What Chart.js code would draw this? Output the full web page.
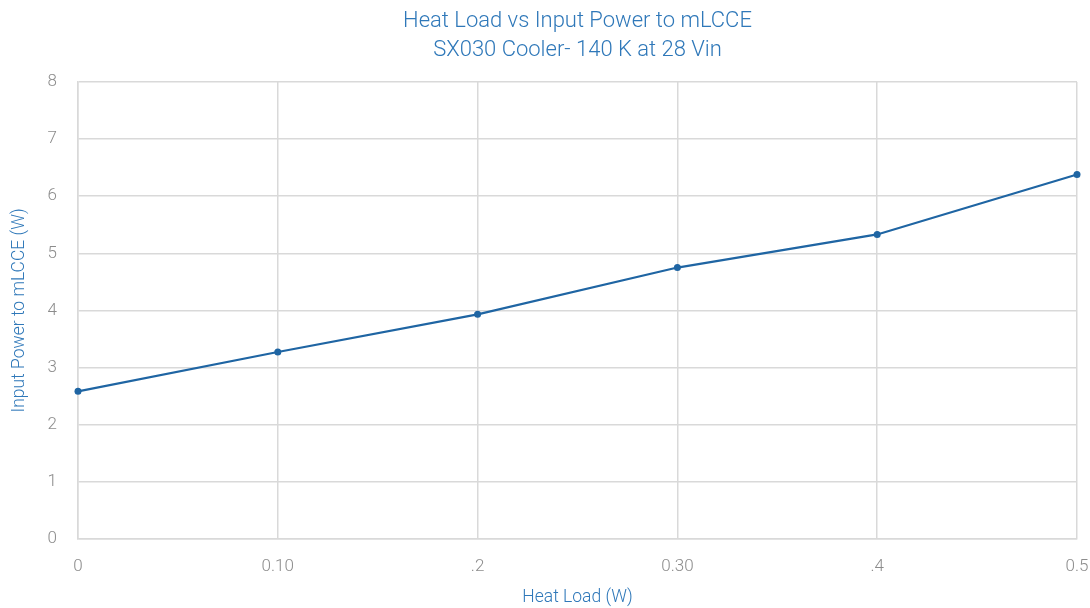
<!DOCTYPE html>
<html>
<head>
<meta charset="utf-8">
<script src="https://cdn.jsdelivr.net/npm/chart.js@4.4.1/dist/chart.umd.min.js"></script>
<style>
    html, body { margin: 0; padding: 0; background: #fff; }
    .chart-container { position: relative; width: 1090px; height: 608px; }
</style>
</head>
<body>
<div class="chart-container">
    <canvas id="heatChart"></canvas>
</div>
<script>
// Heat load (W) categories as labelled on the axis
const heatLabels = ['0', '0.10', '.2', '0.30', '.4', '0.5'];
// Input power to mLCCE (W)
const inputPower = [2.58, 3.27, 3.93, 4.75, 5.33, 6.38];
const titleLines = ['Heat Load vs Input Power to mLCCE', 'SX030 Cooler- 140 K at 28 Vin'];

const blue = '#1f65a3';
const titleBlue = '#2f78b9';
const tickGrey = '#8c8c8c';
const gridGrey = '#d9d9d9';
const fontFamily = '"Helvetica Neue", Roboto, "Liberation Sans", sans-serif';

const ctx = document.getElementById('heatChart').getContext('2d');

new Chart(ctx, {
    type: 'line',
    data: {
        labels: heatLabels,
        datasets: [{
            label: 'Input Power',
            data: inputPower,
            borderColor: blue,
            backgroundColor: blue,
            borderWidth: 2.2,
            pointRadius: 3.5,
            pointBackgroundColor: blue,
            pointBorderWidth: 0,
            tension: 0,
            fill: false
        }]
    },
    options: {
        responsive: true,
        maintainAspectRatio: false,
        animation: false,
        layout: { padding: { left: 9, right: 0, top: 7, bottom: 0 } },
        plugins: {
            legend: { display: false },
            tooltip: { enabled: false },
            title: {
                display: true,
                fullSize: false,
                text: titleLines,
                color: titleBlue,
                font: { family: fontFamily, size: 22, weight: '300', lineHeight: 1.32 },
                padding: { top: 0, bottom: 17 }
            }
        },
        scales: {
            x: {
                offset: false,
                grid: { color: gridGrey, lineWidth: 1.5, drawTicks: false },
                border: { color: gridGrey, width: 1.5 },
                ticks: { color: tickGrey, padding: 18, font: { family: fontFamily, size: 17, weight: '300' } },
                title: {
                    display: true,
                    text: 'Heat Load (W)',
                    color: titleBlue,
                    font: { family: fontFamily, size: 17.5, weight: '300' },
                    padding: { top: -8, bottom: 0 }
                },
                // keep the tick padding from widening the side margins
                afterFit: function(scale) {
                    scale.paddingRight = 13;
                    scale.paddingLeft = 10;
                }
            },
            y: {
                min: 0,
                max: 8,
                grid: { color: gridGrey, lineWidth: 1.5, drawTicks: false },
                border: { color: gridGrey, width: 1.5 },
                ticks: { stepSize: 1, color: tickGrey, padding: 21, font: { family: fontFamily, size: 17, weight: '300' } },
                title: {
                    display: true,
                    text: 'Input Power to mLCCE (W)',
                    color: titleBlue,
                    font: { family: fontFamily, size: 17.5, weight: '300' },
                    padding: { top: 0, bottom: 2 }
                },
                afterFit: function(scale) {
                    scale.width = 69;
                }
            }
        }
    }
});
</script>
</body>
</html>
